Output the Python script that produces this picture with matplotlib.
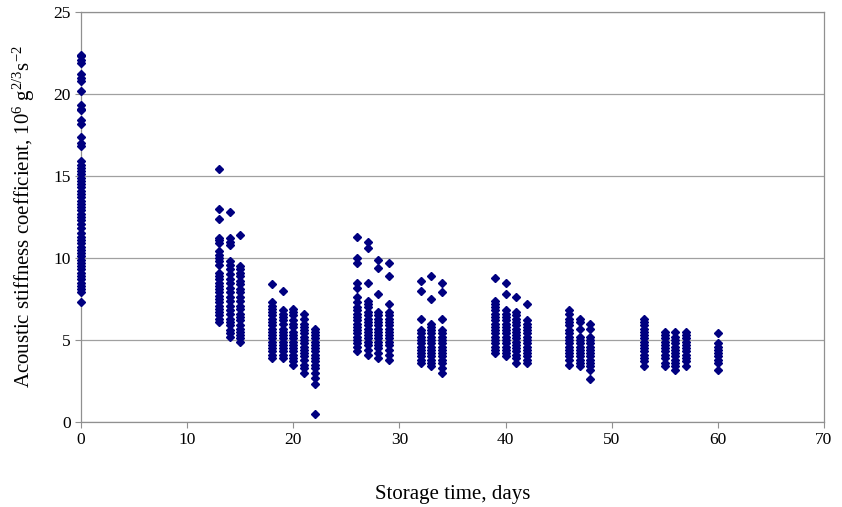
import numpy as np
import matplotlib
matplotlib.use("Agg")
import matplotlib.pyplot as plt

plt.rcParams["font.family"] = ["Liberation Serif", "DejaVu Serif"]
plt.rcParams["mathtext.default"] = "regular"

# Storage days and measured values for each day
days = [0, 13, 14, 15, 18, 19, 20, 21, 22, 26, 27, 28, 29, 32, 33, 34,
        39, 40, 41, 42, 46, 47, 48, 53, 55, 56, 57, 60]

day0 = [22.4, 22.3, 22.1, 21.9, 21.2, 21.0, 20.8, 20.2, 19.3, 19.1, 19.0, 18.4, 18.2,
        17.4, 17.0, 16.8, 15.9, 15.7, 15.5, 15.3, 15.1, 14.9, 14.7, 14.5, 14.3, 14.1,
        13.9, 13.7, 13.5, 13.3, 13.1, 12.9, 12.7, 12.5, 12.3, 12.1, 11.8, 11.5, 11.3,
        11.1, 10.9, 10.7, 10.5, 10.3, 10.1, 9.9, 9.7, 9.5, 9.3, 9.1, 8.9, 8.7, 8.5,
        8.3, 8.1, 7.9, 7.3]
day13 = [15.4, 13.0, 12.4, 11.2, 11.1, 10.9, 10.4, 10.2, 10.0, 9.8, 9.6, 9.1, 8.9, 8.7,
         8.5, 8.3, 8.1, 7.9, 7.7, 7.5, 7.3, 7.1, 6.9, 6.7, 6.5, 6.3, 6.1]
day14 = [12.8, 11.2, 11.0, 10.8, 9.8, 9.6, 9.3, 9.0, 8.7, 8.5, 8.2, 7.9, 7.6, 7.4, 7.1,
         6.8, 6.6, 6.3, 6.1, 5.9, 5.6, 5.4, 5.2]
day15 = [11.4, 9.5, 9.3, 9.1, 8.9, 8.6, 8.4, 8.1, 7.9, 7.6, 7.4, 7.1, 6.9, 6.6, 6.4,
         6.2, 5.9, 5.7, 5.5, 5.3, 5.1, 4.9]
day18 = [8.4, 7.3, 7.1, 6.9, 6.7, 6.5, 6.3, 6.1, 5.9, 5.7, 5.5, 5.3, 5.1, 4.9, 4.7,
         4.5, 4.3, 4.1, 3.9]
day19 = [8.0, 6.8, 6.6, 6.4, 6.2, 6.0, 5.7, 5.5, 5.3, 5.1, 4.9, 4.7, 4.5, 4.3, 4.1, 3.9]
day20 = [6.9, 6.7, 6.5, 6.2, 6.0, 5.8, 5.5, 5.3, 5.1, 4.9, 4.7, 4.5, 4.3, 4.1, 3.9,
         3.7, 3.5]
day21 = [6.6, 6.3, 6.0, 5.8, 5.6, 5.4, 5.2, 5.0, 4.8, 4.6, 4.4, 4.2, 4.0, 3.8, 3.5,
         3.3, 3.0]
day22 = [5.7, 5.5, 5.3, 5.1, 4.9, 4.7, 4.5, 4.3, 4.1, 3.9, 3.7, 3.5, 3.3, 3.0, 2.7,
         2.3, 0.5]
day26 = [11.3, 10.0, 9.7, 8.5, 8.2, 7.6, 7.3, 7.0, 6.8, 6.6, 6.4, 6.2, 6.0, 5.8, 5.6,
         5.4, 5.2, 5.0, 4.8, 4.6, 4.3]
day27 = [11.0, 10.6, 8.5, 7.4, 7.2, 7.0, 6.7, 6.5, 6.3, 6.1, 5.9, 5.7, 5.5, 5.3, 5.1,
         4.9, 4.7, 4.4, 4.1]
day28 = [9.9, 9.4, 7.8, 6.7, 6.5, 6.3, 6.1, 5.9, 5.7, 5.5, 5.3, 5.1, 4.9, 4.7, 4.5,
         4.2, 3.9]
day29 = [9.7, 8.9, 7.2, 6.7, 6.5, 6.3, 6.1, 5.9, 5.7, 5.5, 5.3, 5.1, 4.9, 4.7, 4.4,
         4.1, 3.8]
day32 = [8.6, 8.0, 6.3, 5.6, 5.4, 5.2, 5.0, 4.8, 4.6, 4.4, 4.2, 4.0, 3.8, 3.6]
day33 = [8.9, 7.5, 6.0, 5.8, 5.6, 5.4, 5.2, 5.0, 4.8, 4.6, 4.4, 4.2, 4.0, 3.8, 3.6, 3.4]
day34 = [8.5, 7.9, 6.3, 5.6, 5.4, 5.2, 5.0, 4.8, 4.6, 4.4, 4.2, 4.0, 3.8, 3.6, 3.3, 3.0]
day39 = [8.8, 7.4, 7.2, 7.0, 6.8, 6.6, 6.4, 6.2, 6.0, 5.8, 5.6, 5.4, 5.2, 5.0, 4.8,
         4.6, 4.4, 4.2]
day40 = [8.5, 7.8, 6.8, 6.6, 6.4, 6.2, 6.0, 5.8, 5.6, 5.4, 5.2, 5.0, 4.8, 4.6, 4.4,
         4.2, 4.0]
day41 = [7.6, 6.7, 6.5, 6.3, 6.1, 5.9, 5.7, 5.5, 5.3, 5.1, 4.9, 4.7, 4.5, 4.3, 4.1,
         3.9, 3.6]
day42 = [7.2, 6.2, 6.0, 5.8, 5.6, 5.4, 5.2, 5.0, 4.8, 4.6, 4.4, 4.2, 4.0, 3.8, 3.6]
day46 = [6.8, 6.6, 6.3, 6.1, 5.9, 5.6, 5.4, 5.2, 5.0, 4.8, 4.6, 4.4, 4.2, 4.0, 3.8, 3.5]
day47 = [6.3, 6.1, 5.7, 5.2, 5.0, 4.8, 4.6, 4.4, 4.2, 4.0, 3.8, 3.6, 3.4]
day48 = [6.0, 5.7, 5.2, 5.0, 4.8, 4.6, 4.4, 4.2, 4.0, 3.8, 3.6, 3.4, 3.2, 2.6]
day53 = [6.3, 6.1, 5.9, 5.7, 5.5, 5.3, 5.1, 4.9, 4.7, 4.5, 4.3, 4.1, 3.9, 3.7, 3.4]
day55 = [5.5, 5.3, 5.1, 4.9, 4.7, 4.5, 4.3, 4.1, 3.9, 3.6, 3.4]
day56 = [5.5, 5.2, 5.0, 4.8, 4.6, 4.4, 4.2, 4.0, 3.8, 3.6, 3.4, 3.2]
day57 = [5.5, 5.3, 5.1, 4.9, 4.7, 4.5, 4.3, 4.1, 3.9, 3.7, 3.4]
day60 = [5.4, 4.8, 4.6, 4.4, 4.2, 4.0, 3.8, 3.6, 3.2]

values = [day0, day13, day14, day15, day18, day19, day20, day21, day22,
          day26, day27, day28, day29, day32, day33, day34,
          day39, day40, day41, day42, day46, day47, day48,
          day53, day55, day56, day57, day60]

fig = plt.figure(figsize=(8.42, 5.07), dpi=100)
ax = fig.add_axes([0.0962, 0.1677, 0.8824, 0.8086])

for d, v in zip(days, values):
    ax.plot(np.full(len(v), d), v, linestyle="none", marker="D",
            ms=4.2, color="#000080", mec="#000080", clip_on=False, zorder=3)

ax.set_xlim(0, 70)
ax.set_ylim(0, 25)
ax.set_xticks(range(0, 71, 10))
ax.set_yticks(range(0, 26, 5))
ax.yaxis.grid(True, color="#a0a0a0", lw=0.9)
ax.set_axisbelow(True)
for s in ax.spines.values():
    s.set_color("#909090")
    s.set_linewidth(0.9)
ax.tick_params(colors="#909090", labelcolor="black", labelsize=12.5,
               length=4, direction="out")

ax.set_xlabel("Storage time, days", fontsize=15, labelpad=26)
ax.set_ylabel(r"Acoustic stiffness coefficient, 10$^{6}$ g$^{2/3}$s$^{-2}$",
              fontsize=15, labelpad=12)

fig.savefig("out.png", dpi=100)
